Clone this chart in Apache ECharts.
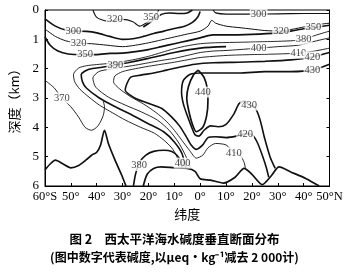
<!DOCTYPE html>
<html><head><meta charset="utf-8">
<script src="https://cdn.jsdelivr.net/npm/echarts@6/dist/echarts.min.js"></script>
<style>html,body{margin:0;padding:0;background:#fff}#c{width:349px;height:272px}</style>
</head><body><div id="c"></div>
<script>
// axis ticks
const latTicks = [-60,-50,-40,-30,-20,-10,0,10,20,30,40,50];
const depthTicks = [0,1,2,3,4,5,6];
// contour lines: [latitude (deg, negative = S), depth (km)]
const c300a = [[-60,0.3],[-56,0.55],[-52,0.68],[-48,0.72],[-44,0.73],[-40,0.78],[-35,0.9],[-30,1.0],[-26,0.98],[-22,0.9],[-18,0.8],[-14,0.72],[-10,0.63],[-6,0.55],[-3,0.42],[-1,0.25],[0,0.05]];
const c300b = [[5,0],[6,0.1],[10,0.14],[20,0.14],[30,0.13],[40,0.12],[50,0.12]];
const c320top = [[-41.5,0],[-40,0.25],[-36,0.38],[-30,0.32],[-26,0.4],[-23.5,0.55],[-21,0.45],[-19,0.3],[-17,0.15],[-16,0]];
const c350top = [[-22,0.58],[-19,0.4],[-15,0.15],[-12,0.1],[-8,0.12],[-5,0.1],[-3,0]];
const c320 = [[-60,0.65],[-56,0.9],[-52,1.05],[-47,1.13],[-42,1.15],[-36,1.2],[-30,1.25],[-25,1.2],[-20,1.12],[-15,1.02],[-10,0.92],[-5,0.82],[0,0.72],[3,0.55],[4.5,0.35],[6,0.45],[10,0.55],[15,0.6],[20,0.65],[25,0.7],[31,0.72],[36,0.65],[40,0.58],[45,0.5],[50,0.45]];
const c350 = [[-60,0.92],[-58,1.2],[-55,1.4],[-51,1.5],[-45,1.52],[-40,1.52],[-35,1.48],[-30,1.47],[-25,1.42],[-20,1.35],[-15,1.25],[-10,1.15],[-5,1.05],[0,0.95],[5,0.85],[10,0.85],[20,0.83],[30,0.78],[35,0.72],[40,0.64],[44,0.6],[50,0.52]];
const c370 = [[-60,2.4],[-56.5,2.65],[-53.5,3.0],[-50,3.3],[-47,3.65],[-44.5,4.0],[-42,4.1],[-39.5,3.95],[-37.5,3.6],[-37,3.3],[-37.5,3.1]];
const c380 = [[50,0.72],[45,0.85],[40,1.0],[35,1.05],[25,1.08],[15,1.1],[5,1.12],[0,1.15],[-5,1.22],[-10,1.32],[-15,1.45],[-20,1.58],[-25,1.68],[-30,1.76],[-35,1.82],[-40,1.86],[-44,1.9],[-47,1.98],[-49,2.2],[-48.5,2.45],[-46.5,2.7],[-43,2.97],[-39,3.24],[-34,3.5],[-29,3.75],[-23,4.0],[-17.7,4.2],[-14,4.44],[-11,4.7],[-9,5.0],[-8,5.4]];
const c380b = [[-25.8,6],[-25,5.6],[-23.5,5.2],[-21,4.95],[-18,4.82],[-14,4.78],[-11,4.82],[-9,4.95],[-7.5,5.15],[-7,5.4]];
const c390 = [[10,1.25],[0,1.3],[-10,1.45],[-20,1.65],[-28,1.8],[-33,1.88],[-38,1.95],[-43,2.02],[-46,2.2],[-45.5,2.45],[-44,2.66],[-39,3.0],[-32.8,3.3],[-26.4,3.58],[-20.4,3.86],[-14,4.16],[-10,4.5],[-7,4.9],[-5.5,5.4]];
const c400 = [[50,0.95],[45,1.05],[38,1.2],[30,1.25],[22.6,1.3],[15,1.35],[10,1.38],[5,1.4],[0,1.45],[-5,1.55],[-10,1.65],[-15,1.72],[-20,1.8],[-25,1.88],[-30,1.95],[-35,2.02],[-39.2,2.1],[-41.5,2.32],[-40.4,2.63],[-35.5,2.97],[-29,3.24],[-22.6,3.48],[-16.6,3.75],[-12,4.1],[-8.5,4.5],[-6,4.9],[-4.5,5.2],[-3.5,5.45]];
const c410 = [[50,1.3],[43,1.42],[38,1.47],[30,1.5],[20,1.52],[10,1.55],[0,1.62],[-5,1.7],[-10,1.78],[-15,1.85],[-20,1.92],[-25,2.0],[-30,2.1],[-33,2.25],[-33.5,2.45],[-31,2.7],[-27,2.95],[-22,3.2],[-17,3.5],[-13,3.8],[-10,4.1],[-7,4.45],[-4,4.8],[-1.5,5.05],[1,4.95],[3,4.7],[6,4.55],[10,4.6],[13,4.85],[15.5,4.95],[17,5.2],[17.5,5.4]];
const c420 = [[50,1.45],[43.4,1.6],[35,1.7],[25,1.75],[15,1.78],[5,1.8],[-2,1.85],[-8,1.95],[-13,2.05],[-18,2.15],[-23,2.22],[-27,2.3],[-29,2.73],[-25.3,3.0],[-20.4,3.17],[-15,3.35],[-11,3.65],[-8,3.95],[-5.5,4.3],[-3.5,4.6],[-1.5,4.75],[1,4.6],[3,4.35],[6,4.32],[10,4.35],[14,4.3],[17.4,4.22],[20,4.25],[22,4.5],[24,4.95],[25.5,5.35],[26.5,5.7]];
const c430 = [[50,1.85],[43.4,2.05],[35,2.1],[25,2.1],[15,2.15],[5,2.15],[0,2.15],[-4,2.2],[-6.5,2.4],[-7.2,2.8],[-6.5,3.2],[-5,3.6],[-3.5,3.95],[-2,4.25],[-0.5,4.3],[1.5,4.1],[4,3.95],[7,3.98],[10,3.9],[13,3.55],[15,3.2],[17,3.1],[19,3.24],[21,3.3],[23,3.7],[25,4.4],[27,5.0],[29,5.4]];
const c440 = [[-0.8,2.05],[1.5,2.3],[2.8,2.7],[3,3.1],[2.5,3.6],[1,4.0],[-1.5,4.15],[-3,3.9],[-4.5,3.4],[-5.2,3.0],[-4.5,2.6],[-2.5,2.2],[-0.8,2.05]];
const floorS = [[-60,5.45],[-58,5.25],[-56,5.12],[-53,5.25],[-50,5.38],[-47,5.3],[-44,5.1],[-42,4.95],[-40,4.85],[-38.5,4.6],[-37,4.1],[-35.5,4.55],[-33,5.1],[-30.5,5.6],[-28.7,6]];
const floorN = [[-22,6],[-20.5,5.6],[-18,5.4],[-15,5.35],[-10,5.38],[-5,5.4],[-2,5.5],[0,5.75],[4,5.8],[9,5.9],[13.5,5.7],[17,5.4],[20,5.6],[24,5.95],[27.5,5.65],[30.5,5.35],[35,5.52],[41,5.75],[46,6.0]];
// contour labels: [lat, depth, value]
const labels = [[-49,0.72,'300'],[22.6,0.13,'300'],[-33,0.3,'320'],[-19,0.24,'350'],[-47,1.13,'320'],[31.3,0.72,'320'],[-44.5,1.52,'350'],[43.8,0.58,'350'],[40,1.0,'380'],[-32.8,1.88,'390'],[22.6,1.3,'400'],[38,1.47,'410'],[43.4,1.6,'420'],[43.4,2.05,'430'],[-53.5,3.0,'370'],[1,2.8,'440'],[18.9,3.24,'430'],[17.4,4.22,'420'],[13,4.87,'410'],[-6.8,5.22,'400'],[-23.6,5.3,'380']];

const chart = echarts.init(document.getElementById('c'), null, {renderer:'canvas'});
const lines = [
  [c300a,1.6],[c300b,1.2],[c320top,1.1],[c350top,1.6],[c320,1.0],[c350,1.7],[c370,0.9],[c380,0.9],[c380b,1.6],
  [c390,1.6],[c400,0.9],[c410,0.9],[c420,1.6],[c430,1.6],[c440,1.7],[floorS,1.7],[floorN,1.7]
];
const series = lines.map(([d,w]) => ({type:'line', data:d, showSymbol:false, smooth:0.25, silent:true,
  lineStyle:{color:'#111', width:w}, clip:true, z:2}));
series.push({type:'scatter', data:labels, symbolSize:0, silent:true, z:5,
  label:{show:true, position:'inside', formatter:p=>p.value[2], fontFamily:'Liberation Serif', fontSize:10.5, color:'#111', backgroundColor:'#fff', padding:[0,1]}});
const fmtLat = v => v===-60?'60°S':(v===50?'50°N':Math.abs(v)+'°');
chart.setOption({
  animation:false,
  grid:{left:38, right:19.5, top:10, bottom:86, show:true, borderColor:'#000', borderWidth:1, backgroundColor:'transparent'},
  xAxis:{type:'value', min:latTicks[0], max:latTicks[latTicks.length-1], interval:10,
    name:'纬度', nameLocation:'middle', nameGap:15, nameTextStyle:{fontFamily:'Noto Sans CJK SC', fontSize:13, color:'#000'},
    axisLine:{onZero:false, lineStyle:{color:'#000'}}, axisTick:{inside:true, length:3, lineStyle:{color:'#000'}}, splitLine:{show:false},
    axisLabel:{formatter:fmtLat, fontFamily:'Liberation Serif', fontSize:12.5, color:'#000', margin:4, showMinLabel:true, showMaxLabel:true}},
  yAxis:[{type:'value', inverse:true, min:depthTicks[0], max:depthTicks[depthTicks.length-1], interval:1, position:'left',
    name:'深度（km）', nameLocation:'middle', nameRotate:90, nameGap:24, nameTextStyle:{fontFamily:'Noto Sans CJK SC', fontSize:13, color:'#000'},
    axisLine:{show:true, onZero:false, lineStyle:{color:'#000'}}, axisTick:{inside:true, length:3, lineStyle:{color:'#000'}}, splitLine:{show:false},
    axisLabel:{fontFamily:'Liberation Serif', fontSize:13, color:'#000', margin:6}},
   {type:'value', inverse:true, min:0, max:6, interval:1, position:'right',
    axisLine:{show:true, onZero:false, lineStyle:{color:'#000'}}, axisTick:{inside:true, length:3, lineStyle:{color:'#000'}}, axisLabel:{show:false}, splitLine:{show:false}}],
  graphic:[
    {type:'text', left:'center', top:233, style:{text:'图 2　西太平洋海水碱度垂直断面分布', font:'bold 12.5px "Noto Sans CJK SC"', fill:'#000'}},
    {type:'text', left:'center', top:251, style:{text:'(图中数字代表碱度,以μeq·kg⁻¹减去 2 000计)', font:'bold 12px "Noto Sans CJK SC"', fill:'#000'}}
  ],
  series:series
});
</script></body></html>
